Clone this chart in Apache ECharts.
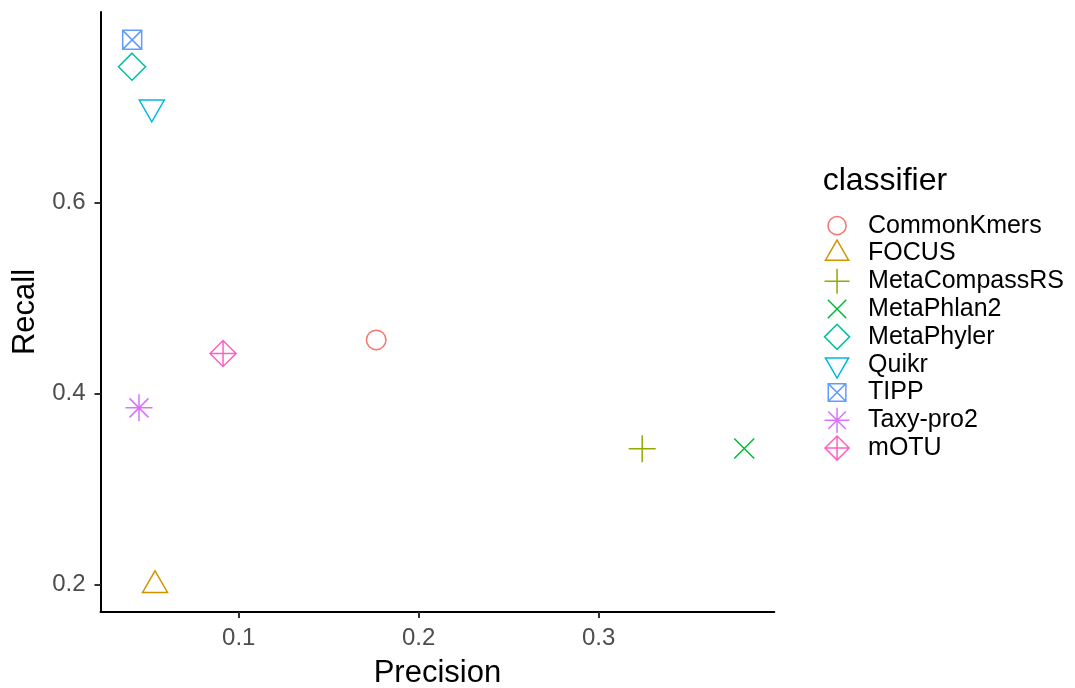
<!DOCTYPE html>
<html>
<head>
<meta charset="utf-8">
<title>Precision vs Recall</title>
<script src="https://cdn.jsdelivr.net/npm/echarts@6/dist/echarts.min.js"></script>
<style>
  html, body { margin: 0; padding: 0; background: #fff; }
  #chart-container { width: 1075px; height: 688px; }
</style>
</head>
<body>
<div id="chart-container"></div>
<script>
// values
const classifiers = ['CommonKmers', 'FOCUS', 'MetaCompassRS', 'MetaPhlan2', 'MetaPhyler', 'Quikr', 'TIPP', 'Taxy-pro2', 'mOTU'];
const precision = [0.1764, 0.0535, 0.3242, 0.3809, 0.0407, 0.0517, 0.0408, 0.0446, 0.0913];
const recall = [0.4561, 0.199, 0.342, 0.3424, 0.7424, 0.6998, 0.7705, 0.3849, 0.4419];
const colors = ['#F8766D', '#D39200', '#93AA00', '#00BA38', '#00C19F', '#00B9E3', '#619CFF', '#DB72FB', '#FF61C3'];
const xTicks = [0.1, 0.2, 0.3];
const yTicks = [0.2, 0.4, 0.6];

// ggplot-like open shapes, all drawn in the same 30x30 frame (the two moves fix the frame)
const frame = 'M0,0 M30,30 ';
const shapes = [
  'M5.25,15 A9.75,9.75 0 1,1 24.75,15 A9.75,9.75 0 1,1 5.25,15 Z',          // circle
  'M15,0.57 L27.5,22.22 L2.5,22.22 Z',                                      // triangle up
  'M1.5,15 L28.5,15 M15,1.5 L15,28.5',                                      // plus
  'M5,5 L25,25 M25,5 L5,25',                                                // cross
  'M15,1.5 L28.5,15 L15,28.5 L1.5,15 Z',                                    // diamond
  'M2.5,7.78 L27.5,7.78 L15,29.43 Z',                                       // triangle down
  'M5.5,5.5 L24.5,5.5 L24.5,24.5 L5.5,24.5 Z M5.5,5.5 L24.5,24.5 M24.5,5.5 L5.5,24.5', // square + x
  'M1.5,15 L28.5,15 M15,1.5 L15,28.5 M5.5,5.5 L24.5,24.5 M24.5,5.5 L5.5,24.5', // asterisk
  'M15,2 L28,15 L15,28 L2,15 Z M2,15 L28,15 M15,2 L15,28'                   // diamond + plus
];

const font = 'Liberation Sans';

var dom = document.getElementById('chart-container');
var myChart = echarts.init(dom, null, { renderer: 'canvas' });

var series = classifiers.map(function (name, i) {
  return {
    name: name,
    type: 'scatter',
    symbol: 'path://' + frame + shapes[i],
    symbolSize: 30,
    itemStyle: {
      color: 'rgba(0,0,0,0)',
      borderColor: colors[i],
      borderWidth: 1.5,
      opacity: 1
    },
    emphasis: { disabled: true },
    data: [[precision[i], recall[i]]]
  };
});

var option = {
  animation: false,
  backgroundColor: '#fff',
  textStyle: { fontFamily: font },
  grid: { left: 100.5, right: 300.7, top: 12, bottom: 76, containLabel: false, outerBoundsMode: 'none' },
  graphic: [{
    type: 'text',
    left: 822.7,
    top: 165,
    style: { text: 'classifier', font: '32px "Liberation Sans"', fill: '#000' }
  }],
  legend: {
    orient: 'vertical',
    left: 822.4,
    top: 211,
    padding: 0,
    itemWidth: 52,
    itemHeight: 27.8,
    itemGap: -1.5,
    data: classifiers,
    itemStyle: { borderWidth: 1.5 },
    textStyle: { fontSize: 25, color: '#000', fontFamily: font, lineHeight: 26 }
  },
  xAxis: {
    type: 'value',
    min: 0.0232,
    max: 0.3976,
    name: 'Precision',
    nameLocation: 'middle',
    nameGap: 46,
    nameTextStyle: { fontSize: 31, color: '#000', fontFamily: font },
    splitLine: { show: false },
    axisLine: { lineStyle: { color: '#000', width: 2 } },
    axisTick: { customValues: xTicks, length: 6, lineStyle: { color: '#333', width: 2 } },
    axisLabel: {
      customValues: xTicks,
      fontSize: 24,
      color: '#4D4D4D',
      margin: 14,
      formatter: function (v) { return v.toFixed(1); }
    }
  },
  yAxis: {
    type: 'value',
    min: 0.171,
    max: 0.7997,
    name: 'Recall',
    nameLocation: 'middle',
    nameGap: 59,
    nameTextStyle: { fontSize: 31, color: '#000', fontFamily: font },
    splitLine: { show: false },
    axisLine: { show: true, lineStyle: { color: '#000', width: 2 } },
    axisTick: { show: true, customValues: yTicks, length: 6, lineStyle: { color: '#333', width: 2 } },
    axisLabel: {
      customValues: yTicks,
      fontSize: 24,
      color: '#4D4D4D',
      margin: 15,
      formatter: function (v) { return v.toFixed(1); }
    }
  },
  series: series
};

myChart.setOption(option);
window.addEventListener('resize', myChart.resize);
</script>
</body>
</html>
